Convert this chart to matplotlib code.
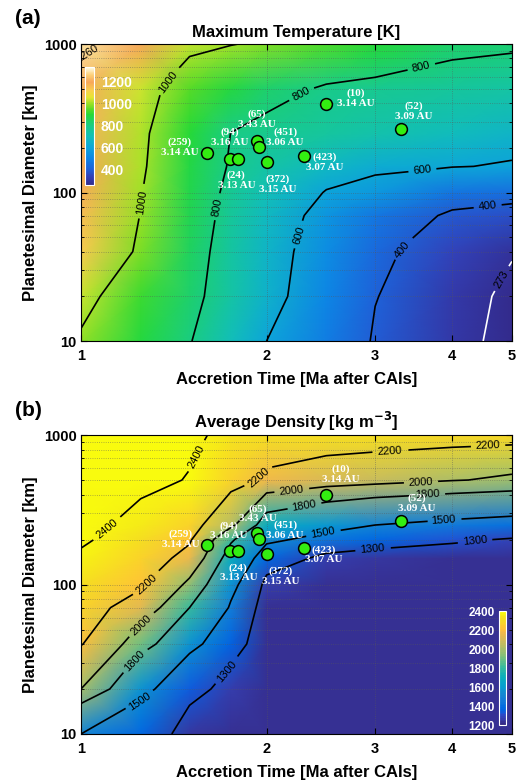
import numpy as np
import matplotlib
matplotlib.use("Agg")
import matplotlib.pyplot as plt
from matplotlib.colors import LinearSegmentedColormap, ListedColormap

plt.rcParams['font.family'] = ['Liberation Sans', 'DejaVu Sans']

# grid of accretion time [Ma after CAIs] and planetesimal diameter [km]
time_nodes = [1.0, 1.25, 1.5, 1.75, 2.0, 2.5, 3.0, 4.0, 5.0]
diam_nodes_a = [10, 20, 40, 70, 100, 150, 250, 500, 1000]
diam_nodes_b = [10, 20, 40, 70, 100, 150, 200, 250, 500, 1000]

# maximum temperature [K]; one row per diameter node
max_temp = [
    [991, 889, 806, 697, 600, 480, 390, 300, 245],
    [1033, 922, 832, 738, 646, 506, 404, 305, 255],
    [1134, 977, 850, 745, 656, 525, 426, 337, 280],
    [1158, 997, 865, 760, 676, 550, 461, 384, 363],
    [1185, 1005, 873, 772, 701, 593, 559, 460, 442],
    [1200, 1015, 882, 790, 740, 670, 625, 605, 590],
    [1215, 1020, 899, 799, 781, 751, 726, 687, 657],
    [1210, 1040, 945, 888, 831, 789, 776, 755, 739],
    [1290, 1197, 1030, 1005, 980, 938, 900, 835, 822],
]

# average density [kg m-3]; one row per diameter node
avg_density = [
    [1500, 1380, 1250, 1230, 1220, 1220, 1220, 1220, 1220],
    [2000, 1560, 1340, 1260, 1220, 1220, 1220, 1220, 1220],
    [2210, 1900, 1560, 1360, 1220, 1220, 1220, 1220, 1220],
    [2270, 2120, 1800, 1480, 1220, 1220, 1220, 1220, 1220],
    [2320, 2230, 1960, 1560, 1260, 1225, 1220, 1220, 1220],
    [2380, 2280, 2150, 1700, 1387, 1260, 1240, 1235, 1230],
    [2420, 2320, 2220, 1830, 1540, 1430, 1370, 1320, 1290],
    [2450, 2350, 2270, 2040, 1700, 1580, 1500, 1450, 1420],
    [2550, 2450, 2390, 2280, 2170, 2100, 2070, 2010, 1970],
    [2650, 2550, 2450, 2330, 2320, 2320, 2310, 2300, 2290],
]

# asteroids: name, heliocentric distance, accretion time, diameter
ast_names = ["(259)", "(94)", "(24)", "(65)", "(451)", "(372)", "(423)", "(10)", "(52)"]
ast_dist = ["3.14 AU", "3.16 AU", "3.13 AU", "3.43 AU", "3.06 AU", "3.15 AU",
            "3.07 AU", "3.14 AU", "3.09 AU"]
ast_time = [1.60, 1.745, 1.80, 1.93, 1.945, 2.00, 2.30, 2.50, 3.30]
ast_diam = [184, 168, 168, 222, 202, 160, 176, 394, 268]

# label offsets in pixels (x, y) from each marker
offs_a = [(-27, 6), (0, 22), (-2, -21), (0, 22), (26, 10), (11, -22), (21, -6), (29, 6), (13, 18)]
offs_b = [(-26, 6), (-1, 20), (0, -22), (1, 19), (26, 9), (14, -22), (20, -7), (14, 21), (16, 17)]

# where the contour labels sit (time, diameter)
lab_pos_a = [(1.358, 590), (1.256, 86), (2.24, 521), (3.55, 722), (1.65, 80),
             (3.57, 142), (2.21, 53), (4.55, 88), (3.17, 50)]
lab_pos_273 = [(4.75, 27)]
lab_pos_1260 = [(1.015, 911)]
lab_pos_b = [(1.548, 713), (1.094, 243), (1.937, 524), (3.17, 713), (4.57, 794),
             (1.28, 99), (2.2, 384), (3.55, 500), (1.26, 52), (2.31, 305),
             (3.65, 384), (1.23, 30), (2.47, 214), (3.87, 270), (1.25, 16),
             (2.96, 178), (4.35, 205), (1.73, 26)]

parula_list = [
    [0.2081, 0.1663, 0.5292], [0.2116, 0.1898, 0.5777], [0.2123, 0.2138, 0.6270],
    [0.2081, 0.2386, 0.6771], [0.1959, 0.2645, 0.7279], [0.1707, 0.2919, 0.7792],
    [0.1253, 0.3242, 0.8303], [0.0591, 0.3598, 0.8683], [0.0117, 0.3875, 0.8820],
    [0.0060, 0.4086, 0.8828], [0.0165, 0.4266, 0.8786], [0.0329, 0.4430, 0.8720],
    [0.0498, 0.4586, 0.8641], [0.0629, 0.4737, 0.8554], [0.0723, 0.4887, 0.8467],
    [0.0779, 0.5040, 0.8384], [0.0793, 0.5200, 0.8312], [0.0749, 0.5375, 0.8263],
    [0.0641, 0.5570, 0.8240], [0.0488, 0.5772, 0.8228], [0.0343, 0.5966, 0.8199],
    [0.0265, 0.6137, 0.8135], [0.0239, 0.6287, 0.8038], [0.0231, 0.6418, 0.7913],
    [0.0228, 0.6535, 0.7768], [0.0267, 0.6642, 0.7607], [0.0384, 0.6743, 0.7436],
    [0.0590, 0.6838, 0.7254], [0.0843, 0.6928, 0.7062], [0.1133, 0.7015, 0.6859],
    [0.1453, 0.7098, 0.6646], [0.1801, 0.7177, 0.6424], [0.2178, 0.7250, 0.6193],
    [0.2586, 0.7317, 0.5954], [0.3022, 0.7376, 0.5712], [0.3482, 0.7424, 0.5473],
    [0.3953, 0.7459, 0.5244], [0.4420, 0.7481, 0.5033], [0.4871, 0.7491, 0.4840],
    [0.5300, 0.7491, 0.4661], [0.5709, 0.7485, 0.4494], [0.6099, 0.7473, 0.4337],
    [0.6473, 0.7456, 0.4188], [0.6834, 0.7435, 0.4044], [0.7184, 0.7411, 0.3905],
    [0.7525, 0.7384, 0.3768], [0.7858, 0.7356, 0.3633], [0.8185, 0.7327, 0.3498],
    [0.8507, 0.7299, 0.3360], [0.8824, 0.7274, 0.3217], [0.9139, 0.7258, 0.3063],
    [0.9450, 0.7261, 0.2886], [0.9739, 0.7314, 0.2666], [0.9938, 0.7455, 0.2403],
    [0.9990, 0.7653, 0.2164], [0.9955, 0.7861, 0.1967], [0.9880, 0.8066, 0.1794],
    [0.9789, 0.8271, 0.1633], [0.9697, 0.8481, 0.1475], [0.9626, 0.8705, 0.1309],
    [0.9589, 0.8949, 0.1132], [0.9598, 0.9218, 0.0948], [0.9661, 0.9514, 0.0755],
    [0.9763, 0.9831, 0.0538],
]
parula = ListedColormap(parula_list)

t_lo, t_hi = 253, 1338
temp_anchors = [
    (253, (0.20, 0.17, 0.55)), (330, (0.20, 0.25, 0.72)), (400, (0.12, 0.38, 0.85)),
    (500, (0.05, 0.52, 0.90)), (600, (0.05, 0.65, 0.85)), (700, (0.07, 0.75, 0.72)),
    (800, (0.10, 0.80, 0.52)), (900, (0.15, 0.85, 0.22)), (950, (0.35, 0.86, 0.15)),
    (1000, (0.60, 0.88, 0.15)), (1060, (0.90, 0.90, 0.20)), (1120, (0.98, 0.82, 0.30)),
    (1200, (0.97, 0.65, 0.35)), (1260, (0.99, 0.80, 0.45)), (1338, (1.0, 1.0, 0.92)),
]
temp_cmap = LinearSegmentedColormap.from_list(
    "temp", [((v - t_lo) / (t_hi - t_lo), c) for v, c in temp_anchors])


def style_axes(ax, title):
    ax.set_xscale("log")
    ax.set_yscale("log")
    ax.set_xlim(1, 5)
    ax.set_ylim(10, 1000)
    ax.set_xticks([1, 2, 3, 4, 5])
    ax.set_xticklabels(["1", "2", "3", "4", "5"])
    ax.xaxis.set_minor_locator(matplotlib.ticker.NullLocator())
    ax.set_yticks([10, 100, 1000])
    ax.set_yticklabels(["10", "100", "1000"])
    ax.tick_params(which="both", direction="in", top=True, right=True, labelsize=10.5)
    ax.tick_params(axis="x", pad=6)
    ax.tick_params(axis="y", pad=3)
    ax.tick_params(which="major", length=4)
    ax.tick_params(which="minor", length=2)
    for lab in ax.get_xticklabels() + ax.get_yticklabels():
        lab.set_fontweight("bold")
    ax.grid(True, which="both", linestyle=":", color="0.35", linewidth=0.6, alpha=0.6)
    ax.set_xlabel("Accretion Time [Ma after CAIs]", fontsize=12, fontweight="bold", labelpad=6)
    ax.set_ylabel("Planetesimal Diameter [km]", fontsize=12, fontweight="bold", labelpad=4)
    ax.set_title(title, fontsize=12, fontweight="bold", pad=5)
    for sp in ax.spines.values():
        sp.set_linewidth(0.8)


def add_asteroids(ax, offsets):
    ax.plot(ast_time, ast_diam, "o", ms=8.5, mfc="#33ee11", mec="k", mew=1.1, zorder=5)
    for name, dist, t, d, off in zip(ast_names, ast_dist, ast_time, ast_diam, offsets):
        ax.annotate(name + "\n" + dist, (t, d), xytext=off, textcoords="offset pixels",
                    ha="center", va="center", color="white", fontsize=8,
                    fontweight="bold", family=["Liberation Serif", "DejaVu Serif"],
                    linespacing=1.1, zorder=6)


fig = plt.figure(figsize=(5.19, 7.82), dpi=100)
ax_a = fig.add_axes([0.156, 0.5639, 0.8304, 0.3798])
ax_b = fig.add_axes([0.156, 0.0614, 0.8304, 0.3823])

# panel (a): maximum temperature
ta, da = np.meshgrid(time_nodes, diam_nodes_a)
temp = np.array(max_temp, dtype=float)
style_axes(ax_a, "Maximum Temperature [K]")
ax_a.pcolormesh(ta, da, temp, shading="gouraud", cmap=temp_cmap, vmin=t_lo, vmax=t_hi,
                rasterized=True)
cs = ax_a.contour(ta, da, temp, levels=[400, 600, 800, 1000], colors="k", linewidths=1.2)
ax_a.clabel(cs, fmt="%d", fontsize=8, inline=True, manual=lab_pos_a)
cs_w = ax_a.contour(ta, da, temp, levels=[273], colors="white", linewidths=1.2)
ax_a.clabel(cs_w, fmt="%d", fontsize=8, inline=True, colors="k", manual=lab_pos_273)
cs_r = ax_a.contour(ta, da, temp, levels=[1260], colors="red", linewidths=1.2)
ax_a.clabel(cs_r, fmt="%d", fontsize=8, inline=True, colors="k", manual=lab_pos_1260)
add_asteroids(ax_a, offs_a)

cax_a = ax_a.inset_axes([0.0093, 0.525, 0.021, 0.398])
sm_a = plt.cm.ScalarMappable(cmap=temp_cmap, norm=plt.Normalize(t_lo, t_hi))
cb_a = fig.colorbar(sm_a, cax=cax_a, ticks=[400, 600, 800, 1000, 1200])
cb_a.outline.set_edgecolor("white")
cax_a.tick_params(length=0, labelsize=10, labelcolor="white", pad=5)
for lab in cax_a.get_yticklabels():
    lab.set_fontweight("bold")

# panel (b): average density
tb, db = np.meshgrid(time_nodes, diam_nodes_b)
dens = np.array(avg_density, dtype=float)
style_axes(ax_b, r"Average Density [kg m$^{\mathbf{-3}}$]")
ax_b.pcolormesh(tb, db, dens, shading="gouraud", cmap=parula, vmin=1200, vmax=2400,
                rasterized=True)
cs_b = ax_b.contour(tb, db, dens, levels=[1300, 1500, 1800, 2000, 2200, 2400],
                    colors="k", linewidths=1.2)
ax_b.clabel(cs_b, fmt="%d", fontsize=8, inline=True, manual=lab_pos_b)
add_asteroids(ax_b, offs_b)

cax_b = ax_b.inset_axes([0.970, 0.030, 0.016, 0.381])
sm_b = plt.cm.ScalarMappable(cmap=parula, norm=plt.Normalize(1200, 2400))
cb_b = fig.colorbar(sm_b, cax=cax_b, ticks=[1200, 1400, 1600, 1800, 2000, 2200, 2400])
cb_b.outline.set_edgecolor("white")
cax_b.yaxis.set_ticks_position("left")
cax_b.tick_params(length=0, labelsize=8.5, labelcolor="white", pad=3)
for lab in cax_b.get_yticklabels():
    lab.set_fontweight("bold")

fig.text(0.029, 1 - 18 / 782, "(a)", fontsize=15, fontweight="bold", va="center")
fig.text(0.029, 1 - 411 / 782, "(b)", fontsize=15, fontweight="bold", va="center")

fig.savefig("out.png", dpi=100)
